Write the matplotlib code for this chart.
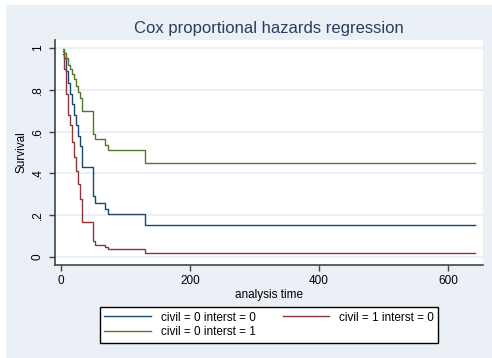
import matplotlib.pyplot as plt
from matplotlib.patches import Rectangle

plt.rcParams['font.family'] = ['Liberation Sans', 'DejaVu Sans']

# Estimated survival by covariate pattern (step functions)
times = [3, 5, 8, 11, 14, 17, 20, 23, 26, 29, 32, 50, 53, 68, 73, 130, 642]
surv_c0_i0 = [.985, .95, .89, .83, .78, .73, .68, .63, .58, .53, .43, .29, .26, .23, .205, .153, .153]
surv_c1_i0 = [.97, .90, .78, .68, .63, .55, .48, .41, .35, .28, .17, .076, .06, .047, .037, .02, .02]
surv_c0_i1 = [.995, .975, .95, .92, .90, .875, .85, .82, .79, .76, .70, .59, .565, .535, .51, .45, .45]

labels = ["civil = 0 interst = 0", "civil = 1 interst = 0", "civil = 0 interst = 1"]
colors = ["#1a476f", "#90353b", "#55752f"]

yticks = [0, .2, .4, .6, .8, 1]
ytick_labels = ["0", ".2", ".4", ".6", ".8", "1"]
xticks = [0, 200, 400, 600]

W, H = 492, 358
fig = plt.figure(figsize=(W / 100, H / 100), dpi=100)
fig.patch.set_facecolor("white")
# bluish graph region behind everything
fig.add_artist(Rectangle((6 / W, 0), 1 - 6 / W, 1 - 5 / H, transform=fig.transFigure,
                         facecolor="#eaf0f6", edgecolor="none", zorder=-10))

ax = fig.add_axes([55 / W, 1 - 265 / H, (483 - 55) / W, (265 - 40) / H])
ax.set_zorder(1)
ax.set_facecolor("white")

lines = []
for vals, lab, col in zip([surv_c0_i0, surv_c1_i0, surv_c0_i1], labels, colors):
    ln, = ax.step(times, vals, where="post", color=col, lw=1.0, label=lab)
    lines.append(ln)

ax.set_xlim(-9.3, 654)
ax.set_ylim(-0.038, 1.038)
ax.set_yticks(yticks)
ax.set_yticklabels(ytick_labels, rotation=90, va="center")
ax.set_xticks(xticks)
ax.grid(axis="y", color="#e6edf2", lw=1.2)
ax.set_axisbelow(True)
ax.tick_params(axis="both", direction="out", length=4, width=1, color="#444444",
               labelsize=8.5, labelcolor="black")
ax.tick_params(axis="y", pad=4)
for side in ["top", "right"]:
    ax.spines[side].set_visible(False)
for side in ["left", "bottom"]:
    ax.spines[side].set_color("#444444")
    ax.spines[side].set_linewidth(1.2)

ax.set_ylabel("Survival", fontsize=8.5, labelpad=3)
ax.set_xlabel("analysis time", fontsize=8.5, labelpad=1)
ax.set_title("Cox proportional hazards regression", fontsize=12, color="#2a3d5e", pad=5)

leg = fig.legend([lines[0], lines[2], lines[1]], [labels[0], labels[2], labels[1]],
                 ncol=2, loc="center", bbox_to_anchor=(269 / W, 1 - 325 / H),
                 fontsize=8.5, frameon=True, fancybox=False, edgecolor="black",
                 framealpha=1, handlelength=3.9, handletextpad=0.85, columnspacing=2.3,
                 borderpad=0.4, labelspacing=0.25)
leg.set_zorder(2)

fig.savefig("out.png", dpi=100, facecolor=fig.get_facecolor())
